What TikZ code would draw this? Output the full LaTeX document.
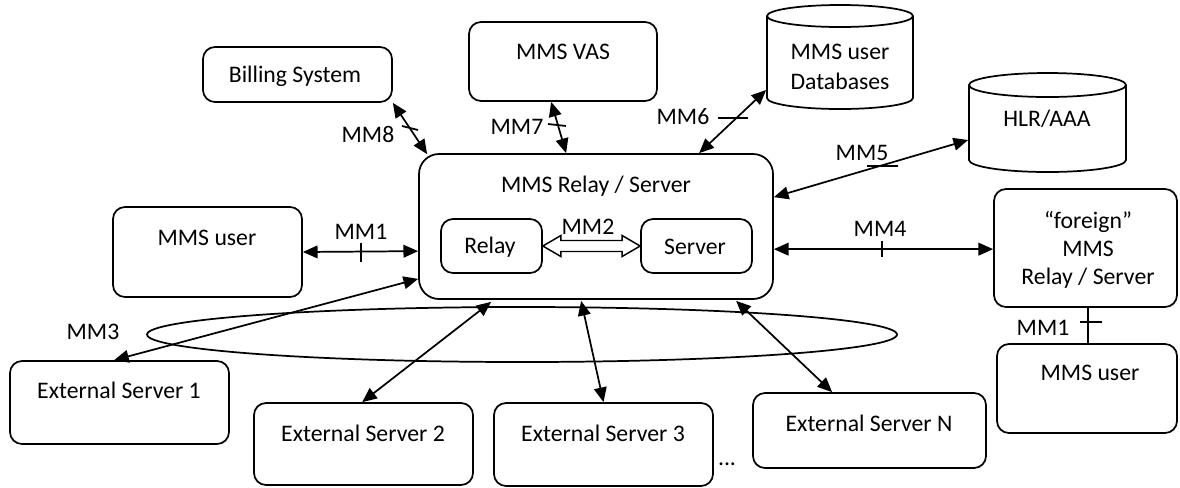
\documentclass[tikz,border=0pt]{standalone}
\usepackage{fontspec}
\setmainfont{Carlito}
\usetikzlibrary{arrows.meta,fit,calc}
\begin{document}
\begin{tikzpicture}[x=0.75pt,y=-0.75pt,line width=1.3pt,
  box/.style={draw, rounded corners=9pt, inner sep=0pt},
  bigbox/.style={draw, rounded corners=15pt, inner sep=0pt},
  area/.style={inner sep=0pt},
  txt/.style={font=\fontsize{17.8}{21.5}\selectfont, inner sep=0pt, align=center},
  link/.style={{Triangle[length=11pt,width=9.5pt]}-{Triangle[length=11pt,width=9.5pt]}},
  tickmark/.style={line width=1.3pt}]
\useasboundingbox (0,0) rectangle (1180,487);

% boxes
\node[box, fit={(203,47)(392,102)}] (bill) {};
\node[txt] (billT) at (295,76) {Billing System};
\node[box, fit={(469,22)(657,101)}] (vas) {};
\node[txt] (vasT) at (563,52) {MMS VAS};
\node[bigbox, fit={(419,154)(773,299)}] (main) {};
\node[txt] (mainT) at (596,186) {MMS Relay / Server};
\node[box, fit={(441,219)(542,273)}] (relay) {};
\node[txt] (relayT) at (490,247) {Relay};
\node[box, fit={(641,219)(752,273)}] (server) {};
\node[txt] (serverT) at (695,247) {Server};
\node[box, fit={(113,207)(302,297)}] (user) {};
\node[txt] (userT) at (207,238) {MMS user};
\node[box, fit={(994,189)(1177,307)}] (foreign) {};
\node[txt] (foreignT) at (1088,250) {“foreign”\\[-0.6pt]MMS\\[-0.6pt]Relay / Server};
\node[box, fit={(997,344)(1177,433)}] (user2) {};
\node[txt] (user2T) at (1090,373) {MMS user};
\node[box, fit={(10,361)(229,444)}] (es1) {};
\node[txt] (es1T) at (119,390) {External Server 1};
\node[box, fit={(254,403)(473,485)}] (es2) {};
\node[txt] (es2T) at (363,433) {External Server 2};
\node[box, fit={(494,403)(713,486)}] (es3) {};
\node[txt] (es3T) at (603,433) {External Server 3};
\node[box, fit={(753,393)(986,468)}] (esn) {};
\node[txt] (esnT) at (869,423) {External Server N};
\node[txt] (dots) at (727,464) {...};

% databases
\node[area, fit={(767,5)(913,109)}] (db) {};
\draw (767,16) -- (767,98) arc[start angle=180, end angle=0, x radius=73, y radius=11] -- (913,16);
\draw (840,16) ellipse[x radius=73, y radius=11];
\node[txt] (dbT) at (840,67) {MMS user\\[1pt]Databases};
\node[area, fit={(969,73)(1126,172)}] (hlr) {};
\draw (969,85) -- (969,160) arc[start angle=180, end angle=0, x radius=78.5, y radius=12] -- (1126,85);
\draw (1047.5,85) ellipse[x radius=78.5, y radius=12];
\node[txt] (hlrT) at (1047,119) {HLR/AAA};

% external server group
\draw (522,334.5) ellipse[x radius=375, y radius=27.5];

% reference points
\draw[link] (bill.south east) -- ($(main.north west)+(9,1)$);
\draw[link] ($(vas.south west)+(83,0)$) -- ($(main.north west)+(148,0)$);
\draw[link] ($(main.north west)+(281,0)$) -- ($(db.west)+(0,33)$);
\draw[link] ($(main.north east)+(0,44)$) -- ($(hlr.west)+(0,17.5)$);
\draw[link] ($(main.north east)+(0,96)$) -- ($(foreign.north west)+(0,61)$);
\draw[link] (user.east) -- ($(main.north west)+(0,98)$);
\draw[link] ($(es1.north west)+(105,0)$) -- ($(main.south west)+(0,-21)$);
\draw[link] ($(es2.north west)+(109,0)$) -- ($(main.south west)+(73,2)$);
\draw[link] (es3.north) -- ($(main.south west)+(163,1)$);
\draw[link] ($(esn.north west)+(80,0)$) -- ($(main.south west)+(318,1)$);
\draw ($(foreign.south west)+(95,0)$) -- ($(user2.north west)+(92,0)$);

% MM2 open double arrow
\draw[fill=white, line width=1.1pt] (relay.east) -- ++(18,-10.5) -- ++(0,5)
  -- ($(server.west)+(-18,-5.5)$) -- ++(0,-5) -- (server.west) -- ++(-18,10.5)
  -- ++(0,-5) -- ($(relay.east)+(18,5.5)$) -- ++(0,5) -- cycle;

% ticks
\draw[tickmark] (402,126) -- (418,130);
\draw[tickmark] (548,124) -- (566,126);
\draw[tickmark] (718,118) -- (748,118);
\draw[tickmark] (867,166) -- (898,166);
\draw[tickmark] (882,241) -- (882,257);
\draw[tickmark] (361,243) -- (361,262);
\draw[tickmark] (1080,322) -- (1102,322);

% interface labels
\node[txt] (mm8) at (368,134) {MM8};
\node[txt] (mm7) at (517,127) {MM7};
\node[txt] (mm6) at (683,117) {MM6};
\node[txt] (mm5) at (862,153) {MM5};
\node[txt] (mm4) at (880,229) {MM4};
\node[txt] (mm1) at (361,232) {MM1};
\node[txt] (mm2) at (588,227) {MM2};
\node[txt] (mm3) at (93,332) {MM3};
\node[txt] (mm1b) at (1043,328) {MM1};
\end{tikzpicture}
\end{document}
